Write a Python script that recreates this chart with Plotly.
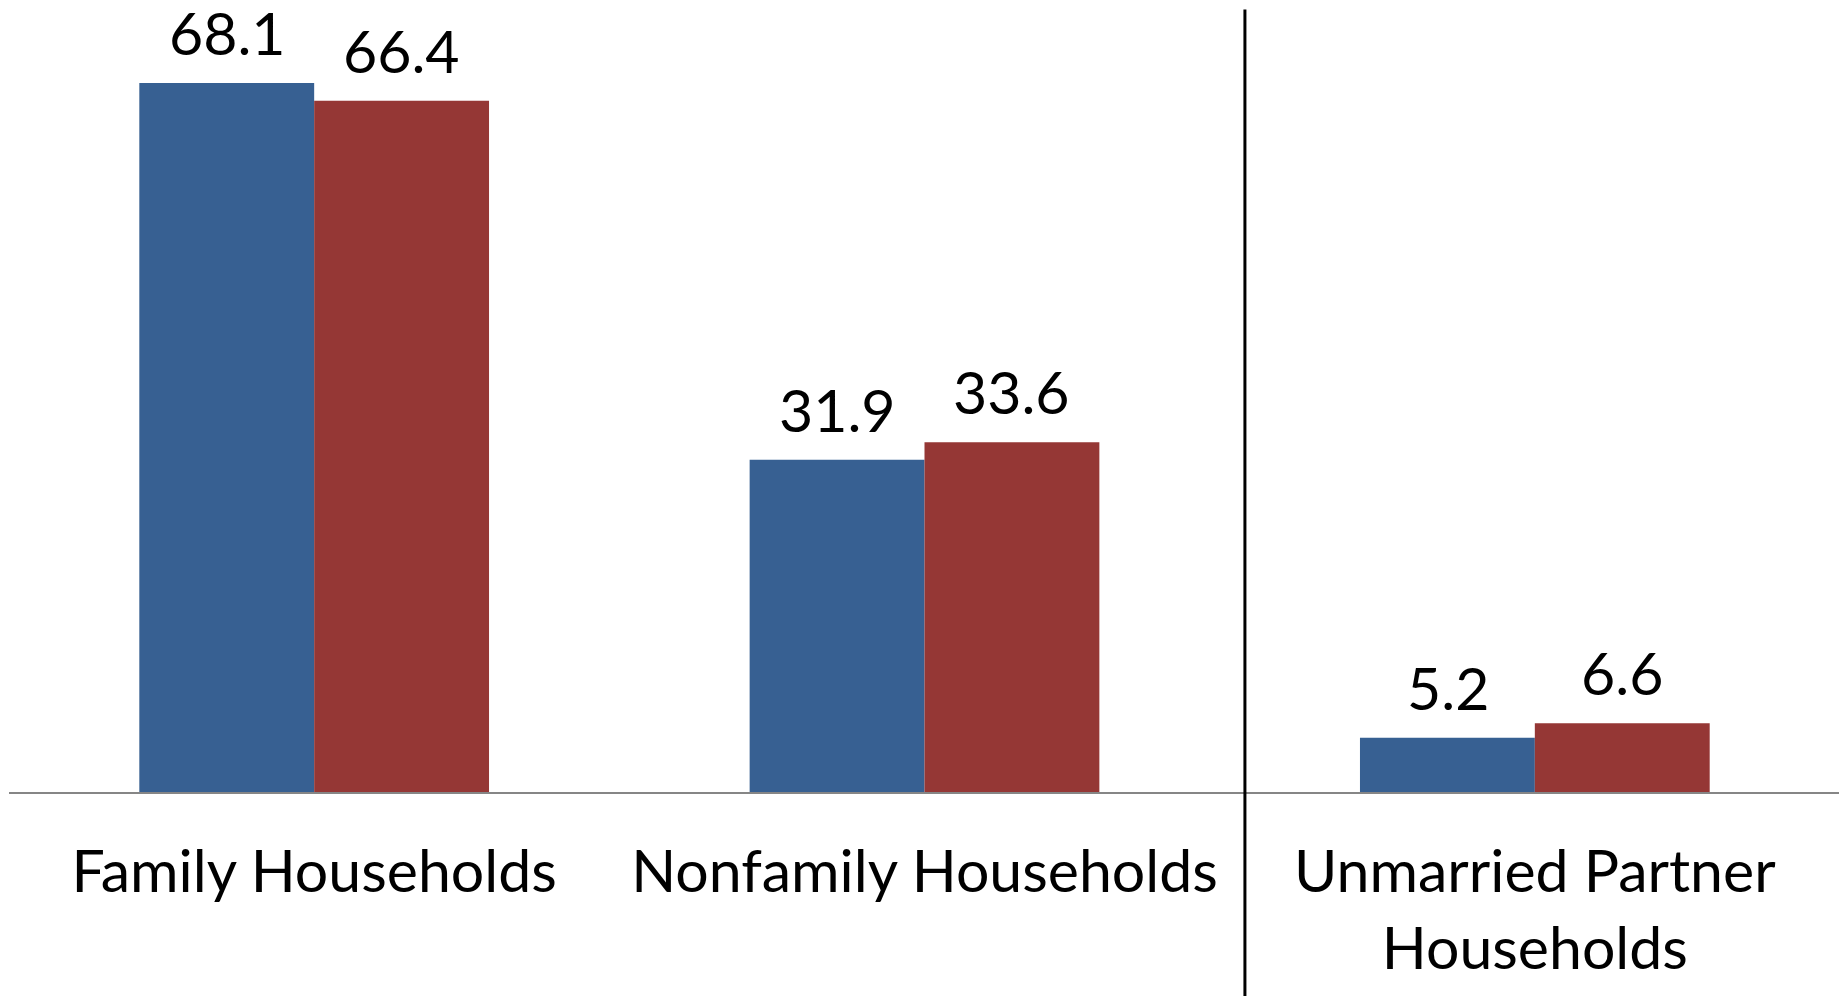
import plotly.graph_objects as go

CATEGORIES = ["Family Households", "Nonfamily Households", "Unmarried Partner<br>Households"]
YEAR_2000 = [68.1, 31.9, 5.2]
YEAR_2010 = [66.4, 33.6, 6.6]

BLUE = "#376092"
RED = "#953735"
FONT = "Lato"
SIZE = 59

fig = go.Figure()
fig.add_bar(x=CATEGORIES, y=YEAR_2000, name="2000", marker=dict(color=BLUE, line=dict(width=0)))
fig.add_bar(x=CATEGORIES, y=YEAR_2010, name="2010", marker=dict(color=RED, line=dict(width=0)))

# value labels sit a little higher above the bars than plotly's outside text
half_bar = 87
for cat, v1, v2 in zip(CATEGORIES, YEAR_2000, YEAR_2010):
    for v, shift in ((v1, -half_bar), (v2, half_bar)):
        fig.add_annotation(x=cat, y=v, text=f"{v:.1f}", showarrow=False, xshift=shift, yshift=14,
                           yanchor="bottom", borderpad=0,
                           font=dict(family=FONT, size=SIZE, color="black"))

# divider between household groups
fig.add_shape(type="line", xref="paper", yref="paper", x0=0.675, x1=0.675, y0=-0.27, y1=0.998,
              line=dict(color="black", width=3))

fig.update_layout(
    width=1839,
    height=988,
    template="plotly_white",
    paper_bgcolor="white",
    plot_bgcolor="white",
    showlegend=False,
    barmode="group",
    bargap=0.427,
    bargroupgap=0,
    margin=dict(l=1, r=7, t=0, b=204),
    font=dict(family=FONT, size=SIZE, color="black"),
    xaxis=dict(showline=True, linecolor="#868686", linewidth=2, ticks="", showgrid=False,
               automargin=False, ticklabelstandoff=27,
               tickfont=dict(family=FONT, size=SIZE, color="black")),
    yaxis=dict(range=[0, 75.3], visible=False, showgrid=False, zeroline=False),
)

fig.write_html("out.html")
